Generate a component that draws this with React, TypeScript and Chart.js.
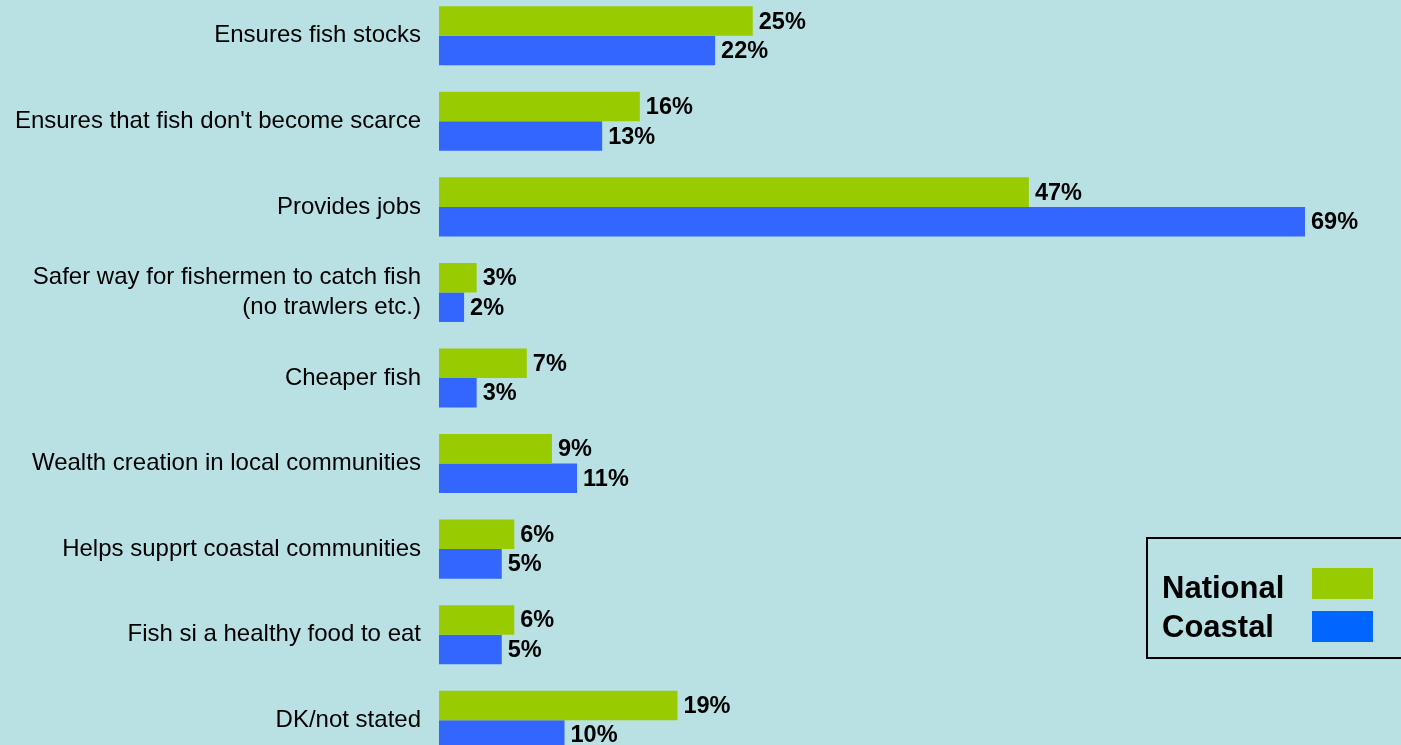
import React, { useEffect, useRef } from "react";
import { Chart, registerables } from "chart.js";

Chart.register(...registerables);

const categories: (string | string[])[] = [
  "Ensures fish stocks",
  "Ensures that fish don't become scarce",
  "Provides jobs",
  ["Safer way for fishermen to catch fish", "(no trawlers etc.)"],
  "Cheaper fish",
  "Wealth creation in local communities",
  "Helps supprt coastal communities",
  "Fish si a healthy food to eat",
  "DK/not stated",
];
const nationalValues = [25, 16, 47, 3, 7, 9, 6, 6, 19];
const coastalValues = [22, 13, 69, 2, 3, 11, 5, 5, 10];
const seriesNames = ["National", "Coastal"];

const FONT = '"Liberation Sans", Arial, Helvetica, sans-serif';
const BG = "#B9E0E3";
const GREEN = "#99CC00";
const BLUE = "#3366FF";
const LEGEND_BLUE = "#0066FF";

export default function App() {
  const ref = useRef<HTMLCanvasElement | null>(null);

  useEffect(() => {
    document.documentElement.style.background = BG;
    document.body.style.background = BG;
    document.body.style.overflow = "hidden";
    const canvas = ref.current;
    if (!canvas) return;

    const labelPlugin = {
      id: "valueLabels",
      afterDatasetsDraw(chart: any) {
        const ctx = chart.ctx;
        ctx.save();
        ctx.font = `bold 23.5px ${FONT}`;
        ctx.fillStyle = "#000";
        ctx.textAlign = "left";
        ctx.textBaseline = "middle";
        chart.data.datasets.forEach((ds: any, di: number) => {
          const meta = chart.getDatasetMeta(di);
          meta.data.forEach((bar: any, i: number) => {
            ctx.fillText(`${ds.data[i]}%`, bar.x + 6, bar.y + 1);
          });
        });
        ctx.restore();
      },
      afterDraw(chart: any) {
        const ctx = chart.ctx;
        const off = 7;
        ctx.save();
        ctx.strokeStyle = "#000";
        ctx.lineWidth = 2;
        ctx.strokeRect(1147, 538 + off, 300, 120);
        ctx.font = `bold 31px ${FONT}`;
        ctx.fillStyle = "#000";
        ctx.textAlign = "left";
        ctx.textBaseline = "alphabetic";
        ctx.fillText(seriesNames[0], 1162, 598 + off);
        ctx.fillText(seriesNames[1], 1162, 637 + off);
        ctx.fillStyle = GREEN;
        ctx.fillRect(1312, 568 + off, 61, 31);
        ctx.fillStyle = LEGEND_BLUE;
        ctx.fillRect(1312, 611 + off, 61, 31);
        ctx.restore();
      },
    };

    const chart = new Chart(canvas, {
      type: "bar",
      data: {
        labels: categories,
        datasets: [
          {
            label: seriesNames[0],
            data: nationalValues,
            backgroundColor: GREEN,
            borderWidth: 0,
          },
          {
            label: seriesNames[1],
            data: coastalValues,
            backgroundColor: BLUE,
            borderWidth: 0,
          },
        ],
      },
      options: {
        indexAxis: "y",
        responsive: false,
        animation: false,
        maintainAspectRatio: false,
        layout: { padding: 0 },
        datasets: {
          bar: { categoryPercentage: 0.69, barPercentage: 1 },
        },
        plugins: {
          legend: { display: false },
          tooltip: { enabled: false },
        },
        scales: {
          x: {
            display: false,
            min: 0,
            max: 76.65,
          },
          y: {
            grid: { display: false, drawTicks: false },
            border: { display: false },
            ticks: {
              color: "#000",
              padding: 18,
              font: { family: FONT, size: 24, lineHeight: 1.25 },
            },
            afterFit(scale: any) {
              scale.width = 439;
              scale.paddingTop = 0;
              scale.paddingBottom = 0;
            },
          },
        },
      },
      plugins: [labelPlugin],
    } as any);

    return () => chart.destroy();
  }, []);

  return (
    <div
      style={{
        position: "absolute",
        left: 0,
        top: 0,
        width: 1401,
        height: 745,
        overflow: "hidden",
        background: BG,
      }}
    >
      <canvas
        ref={ref}
        width={1401}
        height={770}
        style={{ position: "absolute", left: 0, top: -7, width: 1401, height: 770 }}
      />
    </div>
  );
}
